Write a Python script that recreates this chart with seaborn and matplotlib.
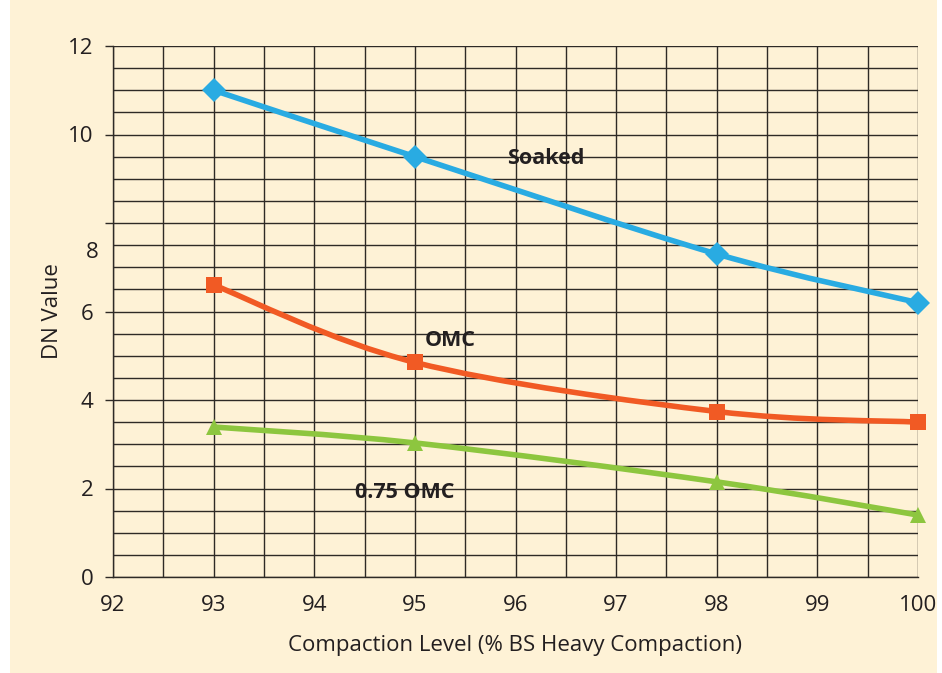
import matplotlib
matplotlib.use("Agg")
import matplotlib.pyplot as plt
import matplotlib.transforms as mtransforms
from matplotlib.path import Path
from matplotlib.patches import PathPatch, Rectangle
import numpy as np
import pandas as pd
import seaborn as sns

# values
compaction = [93, 95, 98, 100]
soaked = [11.0, 9.5, 7.3, 6.2]
omc = [6.6, 4.85, 3.74, 3.5]
omc_075 = [3.39, 3.03, 2.15, 1.4]

x_ticks = [92, 93, 94, 95, 96, 97, 98, 99, 100]
y_ticks = [0, 2, 4, 6, 8, 10, 12]

series = {
    "Soaked": (soaked, "#29abe2", "D", 12.5),
    "OMC": (omc, "#f15a24", "s", 11),
    "0.75 OMC": (omc_075, "#8dc63f", "^", 12),
}

df = pd.concat(
    [pd.DataFrame({"compaction": compaction, "dn": vals, "moisture": name})
     for name, (vals, _, _, _) in series.items()],
    ignore_index=True,
)

cream = "#fef2d6"
grid_col = "#2e2a26"
text_col = "#231f20"

sns.set_theme(style="white")
plt.rcParams["font.family"] = ["Open Sans", "DejaVu Sans"]

fig = plt.figure(figsize=(9.42, 6.73), dpi=100, facecolor="white")
fig.patches.append(Rectangle((10 / 942, 0), 927 / 942, 1, transform=fig.transFigure,
                             facecolor=cream, edgecolor="none", zorder=-10))
ax = fig.add_axes([113 / 942, 1 - 577 / 673, 805 / 942, 531 / 673])
ax.set_facecolor(cream)


def smooth_path(xs, ys):
    # excel-like smoothed line: cubic bezier segments through the points
    pts = np.column_stack([xs, ys]).astype(float)
    verts = [pts[0]]
    codes = [Path.MOVETO]
    n = len(pts)
    for i in range(n - 1):
        p_prev = pts[i - 1] if i > 0 else pts[i]
        p_next = pts[i + 2] if i + 2 < n else pts[i + 1]
        c1 = pts[i] + (pts[i + 1] - p_prev) / 6
        c2 = pts[i + 1] - (p_next - pts[i]) / 6
        verts += [c1, c2, pts[i + 1]]
        codes += [Path.CURVE4] * 3
    return Path(verts, codes)


for name, (vals, col, mk, ms) in series.items():
    ax.add_patch(PathPatch(smooth_path(compaction, vals), facecolor="none",
                           edgecolor=col, lw=4.0, capstyle="round", zorder=3,
                           clip_on=False))
    sub = df[df["moisture"] == name]
    sns.lineplot(data=sub, x="compaction", y="dn", ax=ax, color=col, marker=mk,
                 markersize=ms, markeredgewidth=0, linestyle="none", zorder=4,
                 clip_on=False)

ax.set_xlim(92, 100)
ax.set_ylim(0, 12)
ax.set_xticks(np.arange(92, 100.01, 0.5), minor=True)
ax.set_yticks(np.arange(0, 12.01, 0.5), minor=True)
ax.set_xticks(x_ticks)
ax.set_yticks(y_ticks)
ax.set_xticklabels([str(t) for t in x_ticks])
ax.set_yticklabels([str(t) if t != 8 else "" for t in y_ticks])
ax.grid(which="both", color=grid_col, lw=1.0)
ax.set_axisbelow(True)

for side in ["top", "right"]:
    ax.spines[side].set_visible(False)
ax.spines["left"].set_color(grid_col)
ax.spines["bottom"].set_color(grid_col)
ax.spines["left"].set_linewidth(1.0)
ax.spines["bottom"].set_linewidth(1.0)

ax.tick_params(axis="y", which="major", left=True, length=6, width=1.0,
               color=grid_col, pad=8, labelsize=16, labelcolor=text_col)
ax.tick_params(axis="x", which="major", bottom=False, length=0, pad=13,
               labelsize=16, labelcolor=text_col)
ax.tick_params(which="minor", length=0)

# the "8" label sits lower than its tick in the original
shift = mtransforms.ScaledTranslation(0, -0.29, fig.dpi_scale_trans)
ax.text(-0.0175, 8, "8", transform=ax.get_yaxis_transform() + shift,
        ha="right", va="center", fontsize=16, color=text_col)

ax.set_xlabel("Compaction Level (% BS Heavy Compaction)", fontsize=16,
              color=text_col, labelpad=14)
ax.set_ylabel("DN Value", fontsize=16, color=text_col, labelpad=4)

ax.text(96.3, 9.45, "Soaked", fontsize=15.5, fontweight="bold", color=text_col,
        ha="center", va="center")
ax.text(95.35, 5.35, "OMC", fontsize=15.5, fontweight="bold", color=text_col,
        ha="center", va="center")
ax.text(94.9, 1.9, "0.75 OMC", fontsize=15.5, fontweight="bold", color=text_col,
        ha="center", va="center")

fig.savefig("out.png", dpi=100, facecolor=fig.get_facecolor())
